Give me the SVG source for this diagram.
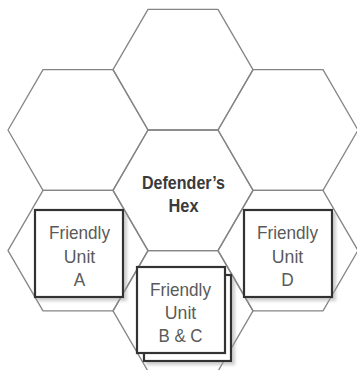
<svg xmlns="http://www.w3.org/2000/svg" width="357" height="370" viewBox="0 0 357 370">
  <style>
    .hex { fill: none; stroke: #858585; stroke-width: 1.3; stroke-linejoin: round; }
    .unit { fill: #ffffff; stroke: #333333; stroke-width: 2.2; }
    .lbl { font-family: "Liberation Sans", Arial, sans-serif; font-size: 19px; fill: #5a5a5a; text-anchor: middle; }
    .title { font-family: "Liberation Sans", Arial, sans-serif; font-size: 18px; font-weight: bold; fill: #3a3a3a; text-anchor: middle; }
  </style>
  <defs>
    <!-- flat-topped hexagon, radius 70, centred on the origin -->
    <polygon id="hexShape" points="-70,0 -35,-60.3 35,-60.3 70,0 35,60.3 -35,60.3"/>
    <filter id="shadow" x="-10%" y="-10%" width="130%" height="130%">
      <feDropShadow dx="3" dy="3" stdDeviation="1.4" flood-color="#a0a0a0" flood-opacity="0.5"/>
    </filter>
  </defs>

  <rect width="357" height="370" fill="#ffffff"/>

  <!-- hex grid -->
  <g id="hex-top"><use href="#hexShape" class="hex" transform="translate(183,69.7)"/></g>
  <g id="hex-left"><use href="#hexShape" class="hex" transform="translate(78,130)"/></g>
  <g id="hex-right"><use href="#hexShape" class="hex" transform="translate(288,130)"/></g>
  <g id="hex-lower-left"><use href="#hexShape" class="hex" transform="translate(78,250.6)"/></g>
  <g id="hex-lower-right"><use href="#hexShape" class="hex" transform="translate(288,250.6)"/></g>
  <g id="hex-bottom"><use href="#hexShape" class="hex" transform="translate(183,310.9)"/></g>
  <g id="hex-defender">
    <use href="#hexShape" class="hex" transform="translate(183,190.3)"/>
    <text class="title" x="183.5" y="189" textLength="83" lengthAdjust="spacingAndGlyphs">Defender’s</text>
    <text class="title" x="183.5" y="211.5" textLength="30" lengthAdjust="spacingAndGlyphs">Hex</text>
  </g>

  <!-- unit counters -->
  <g id="unit-a">
    <rect class="unit" x="35" y="210" width="88" height="87" filter="url(#shadow)"/>
    <text class="lbl" x="79.5" y="239.3" textLength="61" lengthAdjust="spacingAndGlyphs">Friendly</text>
    <text class="lbl" x="79.5" y="262.8" textLength="31.5" lengthAdjust="spacingAndGlyphs">Unit</text>
    <text class="lbl" x="79.5" y="286.3" textLength="11.5" lengthAdjust="spacingAndGlyphs">A</text>
  </g>

  <g id="unit-d">
    <rect class="unit" x="244" y="210" width="88" height="87" filter="url(#shadow)"/>
    <text class="lbl" x="287.5" y="239.3" textLength="61" lengthAdjust="spacingAndGlyphs">Friendly</text>
    <text class="lbl" x="287.5" y="262.8" textLength="31.5" lengthAdjust="spacingAndGlyphs">Unit</text>
    <text class="lbl" x="287.5" y="286.3" textLength="12.5" lengthAdjust="spacingAndGlyphs">D</text>
  </g>

  <g id="unit-bc">
    <rect class="unit" x="144" y="275" width="87" height="86" filter="url(#shadow)"/>
    <rect class="unit" x="137" y="267" width="88" height="86"/>
    <text class="lbl" x="180.5" y="295.8" textLength="61" lengthAdjust="spacingAndGlyphs">Friendly</text>
    <text class="lbl" x="180.5" y="318.8" textLength="31.5" lengthAdjust="spacingAndGlyphs">Unit</text>
    <text class="lbl" x="180.5" y="342" textLength="44" lengthAdjust="spacingAndGlyphs">B &amp; C</text>
  </g>

  <!-- no connectors in this diagram -->
  <g id="connectors"/>
</svg>
